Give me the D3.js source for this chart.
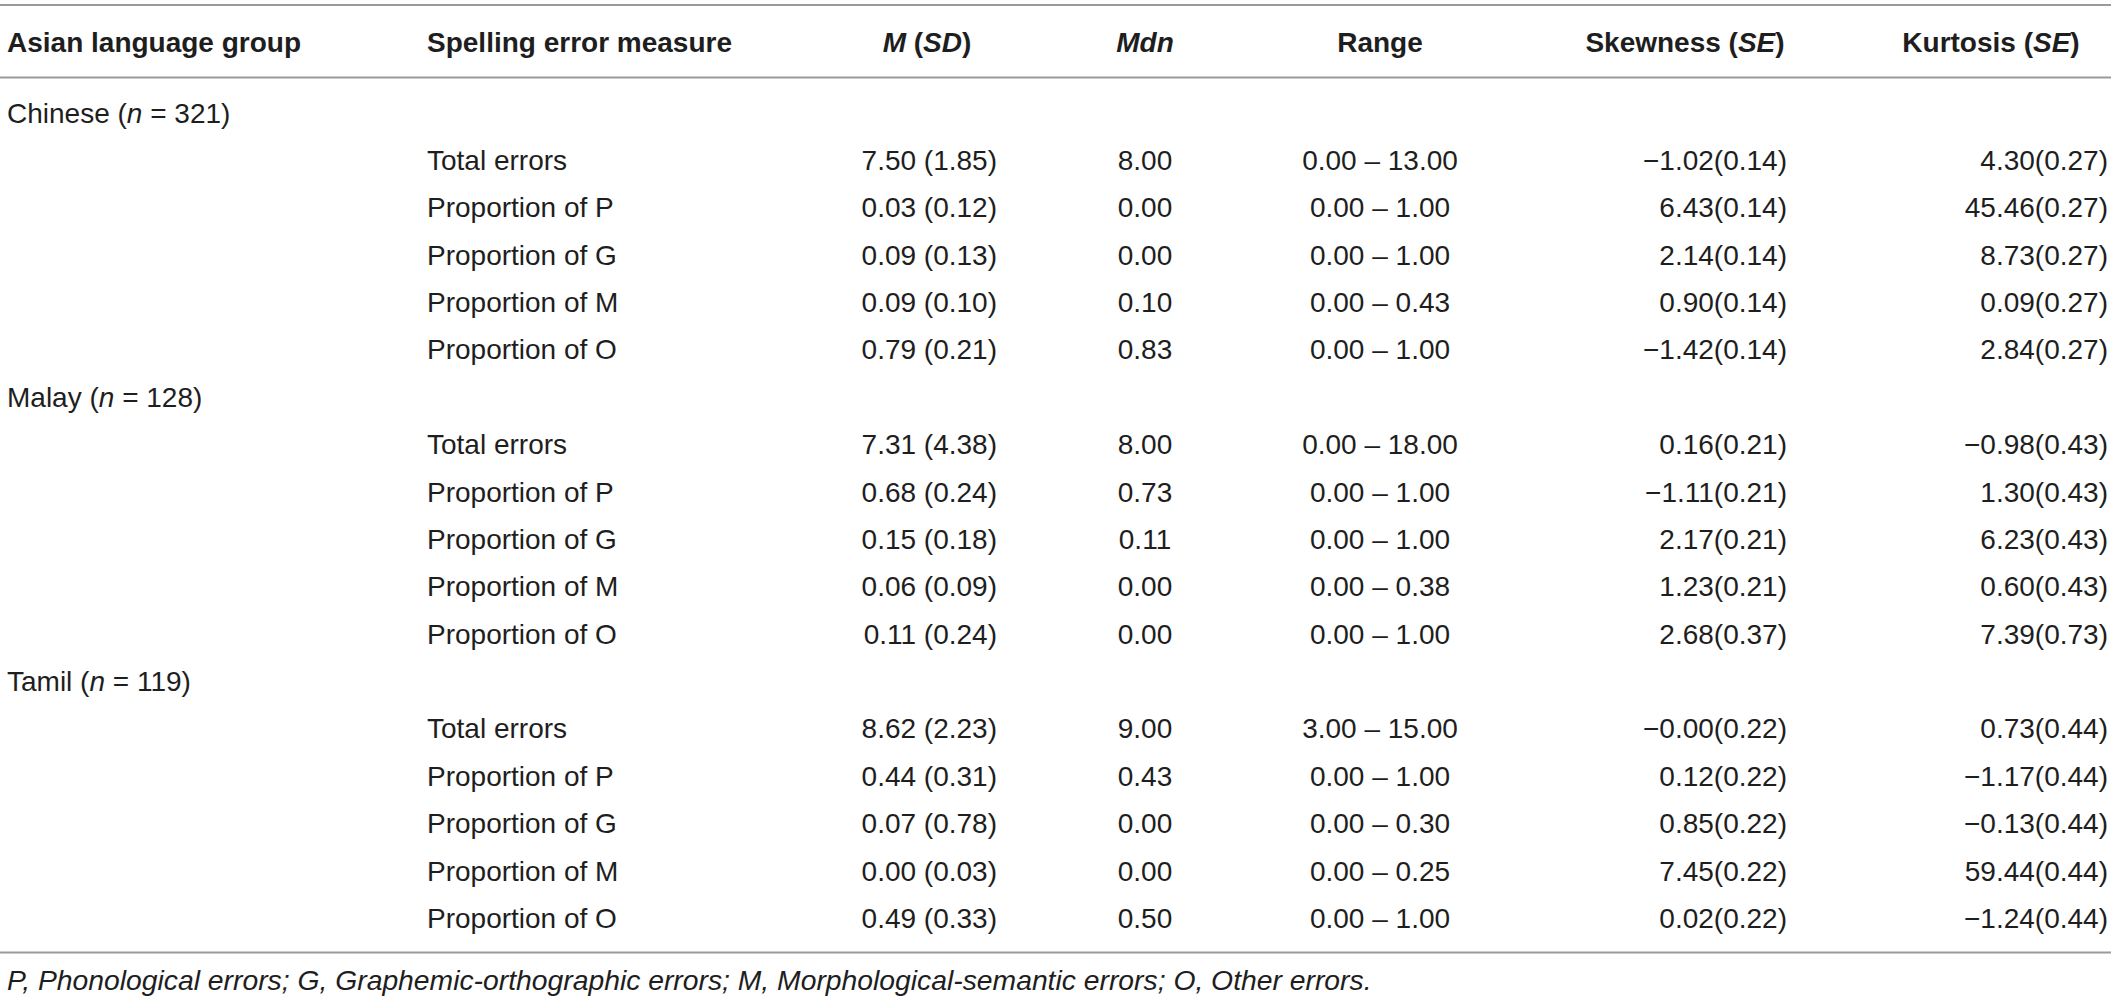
<!DOCTYPE html>
<html>
<head>
<meta charset="utf-8">
<script src="https://cdn.jsdelivr.net/npm/d3@7"></script>
<style>
  html, body { margin: 0; padding: 0; background: #fff; }
  svg { display: block; }
  text { font-family: "Liberation Sans", Arial, Helvetica, sans-serif; fill: #1e1e1e; }
</style>
</head>
<body>
<div id="chart"></div>
<script>
// ---------- data ----------
const groups = ["Chinese", "Malay", "Tamil"];
const groupN = [321, 128, 119];
const measures = ["Total errors", "Proportion of P", "Proportion of G", "Proportion of M", "Proportion of O"];

// per group, per measure (5 each)
const means    = [7.50, 0.03, 0.09, 0.09, 0.79,   7.31, 0.68, 0.15, 0.06, 0.11,   8.62, 0.44, 0.07, 0.00, 0.49];
const sds      = [1.85, 0.12, 0.13, 0.10, 0.21,   4.38, 0.24, 0.18, 0.09, 0.24,   2.23, 0.31, 0.78, 0.03, 0.33];
const medians  = [8.00, 0.00, 0.00, 0.10, 0.83,   8.00, 0.73, 0.11, 0.00, 0.00,   9.00, 0.43, 0.00, 0.00, 0.50];
const rangeMin = [0.00, 0.00, 0.00, 0.00, 0.00,   0.00, 0.00, 0.00, 0.00, 0.00,   3.00, 0.00, 0.00, 0.00, 0.00];
const rangeMax = [13.00, 1.00, 1.00, 0.43, 1.00,  18.00, 1.00, 1.00, 0.38, 1.00,  15.00, 1.00, 0.30, 0.25, 1.00];
const skewness = [-1.02, 6.43, 2.14, 0.90, -1.42, 0.16, -1.11, 2.17, 1.23, 2.68,  -0, 0.12, 0.85, 7.45, 0.02];
const skewSE   = [0.14, 0.14, 0.14, 0.14, 0.14,   0.21, 0.21, 0.21, 0.21, 0.37,   0.22, 0.22, 0.22, 0.22, 0.22];
const kurtosis = [4.30, 45.46, 8.73, 0.09, 2.84,  -0.98, 1.30, 6.23, 0.60, 7.39,  0.73, -1.17, -0.13, 59.44, -1.24];
const kurtSE   = [0.27, 0.27, 0.27, 0.27, 0.27,   0.43, 0.43, 0.43, 0.43, 0.73,   0.44, 0.44, 0.44, 0.44, 0.44];

const footnote = "P, Phonological errors; G, Graphemic-orthographic errors; M, Morphological-semantic errors; O, Other errors.";

// ---------- layout ----------
const W = 2119, H = 1000;
const svg = d3.select("#chart").append("svg").attr("width", W).attr("height", H);

const fmt = v => ((v < 0 || Object.is(v, -0)) ? "\u2212" : "") + Math.abs(v).toFixed(2);

// build row list
const rows = [];
let k = 0;
groups.forEach((g, gi) => {
  rows.push({ type: "group", name: g, n: groupN[gi] });
  measures.forEach((m) => {
    rows.push({
      type: "data", name: m,
      msd: fmt(means[k]) + " (" + fmt(sds[k]) + ")",
      mdn: fmt(medians[k]),
      range: fmt(rangeMin[k]) + " \u2013 " + fmt(rangeMax[k]),
      skew: fmt(skewness[k]) + "(" + fmt(skewSE[k]) + ")",
      kurt: fmt(kurtosis[k]) + "(" + fmt(kurtSE[k]) + ")"
    });
    k++;
  });
});

const y = d3.scaleLinear().domain([0, rows.length - 1]).range([122.6, 122.6 + 47.375 * (rows.length - 1)]);

const cols = ["group", "measure", "msd", "mdn", "range", "skew", "kurt"];
const colHeadX = d3.scaleOrdinal().domain(cols).range([7, 427, 927, 1145, 1380, 1685, 1991]);
const colHeadAnchor = d3.scaleOrdinal().domain(cols).range(["start", "start", "middle", "middle", "middle", "middle", "middle"]);
const colValX = d3.scaleOrdinal().domain(cols).range([7, 427, 997, 1145, 1380, 1787, 2108]);
const colValAnchor = d3.scaleOrdinal().domain(cols).range(["start", "start", "end", "middle", "middle", "end", "end"]);

const headers = {
  group: [["Asian language group", false]],
  measure: [["Spelling error measure", false]],
  msd: [["M", true], [" (", false], ["SD", true], [")", false]],
  mdn: [["Mdn", true]],
  range: [["Range", false]],
  skew: [["Skewness (", false], ["SE", true], [")", false]],
  kurt: [["Kurtosis (", false], ["SE", true], [")", false]]
};

// rules
const rules = [5, 77.5, 952.5];
svg.selectAll("line.rule").data(rules).join("line")
  .attr("class", "rule")
  .attr("x1", 0).attr("x2", 2111)
  .attr("y1", d => d).attr("y2", d => d)
  .attr("stroke", "#9a9a9a").attr("stroke-width", 2);

// header
const hdr = svg.append("g");
cols.forEach(c => {
  const t = hdr.append("text")
    .attr("x", colHeadX(c)).attr("y", 52)
    .attr("text-anchor", colHeadAnchor(c))
    .attr("font-size", 28).attr("font-weight", "bold");
  headers[c].forEach(([s, it]) => {
    t.append("tspan").attr("font-style", it ? "italic" : "normal").text(s);
  });
});

// body
const body = svg.append("g").attr("font-size", 28);
rows.forEach((r, i) => {
  if (r.type === "group") {
    const t = body.append("text").attr("x", colValX("group")).attr("y", y(i));
    t.append("tspan").text(r.name + " (");
    t.append("tspan").attr("font-style", "italic").text("n");
    t.append("tspan").text(" = " + r.n + ")");
  } else {
    body.append("text").attr("x", colValX("measure")).attr("y", y(i)).text(r.name);
    ["msd", "mdn", "range", "skew", "kurt"].forEach(c => {
      body.append("text")
        .attr("x", colValX(c)).attr("y", y(i))
        .attr("text-anchor", colValAnchor(c))
        .text(r[c]);
    });
  }
});

// footnote
svg.append("text")
  .attr("x", 7).attr("y", 990)
  .attr("font-size", 28.3).attr("font-style", "italic")
  .text(footnote);
</script>
</body>
</html>
